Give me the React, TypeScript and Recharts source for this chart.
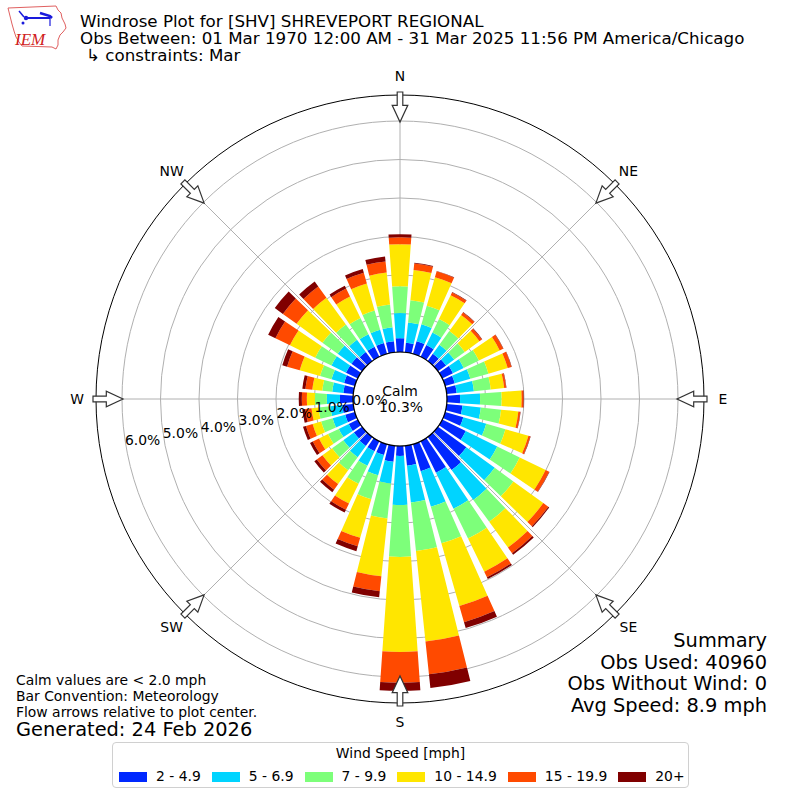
import React from 'react';
import { RadialBarChart, RadialBar, PolarAngleAxis, PolarRadiusAxis, PolarGrid } from 'recharts';

const FONT = '"DejaVu Sans", sans-serif';

// wind direction (deg, bar centre), 10 degree bins
const directions = [0, 10, 20, 30, 40, 50, 60, 70, 80, 90, 100, 110, 120, 130, 140, 150, 160, 170,
    180, 190, 200, 210, 220, 230, 240, 250, 260, 270, 280, 290, 300, 310, 320, 330, 340, 350];

// percent of obs per speed bin
const speed2to5 = [0.36, 0.25, 0.34, 0.34, 0.23, 0.26, 0.31, 0.26, 0.26, 0.34, 0.41, 0.49, 0.68, 0.91, 1.06, 0.91, 0.73, 0.52,
    0.26, 0.42, 0.29, 0.29, 0.29, 0.26, 0.26, 0.26, 0.29, 0.34, 0.26, 0.29, 0.34, 0.34, 0.29, 0.29, 0.29, 0.29];
const speed5to7 = [0.65, 0.53, 0.46, 0.36, 0.29, 0.26, 0.31, 0.42, 0.45, 0.52, 0.48, 0.62, 0.91, 0.91, 0.96, 1.04, 0.96, 0.96,
    1.27, 0.57, 0.55, 0.42, 0.36, 0.34, 0.29, 0.34, 0.31, 0.34, 0.29, 0.34, 0.42, 0.44, 0.39, 0.36, 0.36, 0.36];
const speed7to10 = [0.70, 0.58, 0.50, 0.39, 0.44, 0.34, 0.44, 0.49, 0.44, 0.56, 0.53, 0.52, 0.65, 0.60, 0.70, 0.86, 0.99, 1.27,
    1.35, 0.91, 0.65, 0.52, 0.42, 0.36, 0.31, 0.31, 0.31, 0.31, 0.26, 0.31, 0.47, 0.49, 0.49, 0.47, 0.52, 0.60];
const speed10to15 = [1.09, 0.79, 0.77, 0.69, 0.52, 0.47, 0.60, 0.52, 0.35, 0.52, 0.45, 0.62, 0.75, 0.96, 0.83, 0.96, 1.69, 2.36,
    2.47, 1.51, 1.04, 0.57, 0.44, 0.31, 0.26, 0.23, 0.18, 0.21, 0.26, 0.55, 0.73, 0.83, 0.86, 0.62, 0.73, 0.83];
const speed15to20 = [0.18, 0.17, 0.16, 0.08, 0.08, 0.08, 0.10, 0.10, 0.05, 0.05, 0.05, 0.05, 0.10, 0.16, 0.18, 0.16, 0.44, 0.86,
    0.80, 0.39, 0.23, 0.18, 0.18, 0.18, 0.18, 0.18, 0.16, 0.13, 0.18, 0.34, 0.42, 0.44, 0.36, 0.23, 0.29, 0.29];
const speed20plus = [0.08, 0.02, 0.01, 0.01, 0.01, 0.01, 0.01, 0.01, 0.01, 0.01, 0.01, 0.01, 0.01, 0.03, 0.05, 0.05, 0.16, 0.36,
    0.21, 0.16, 0.13, 0.08, 0.08, 0.08, 0.08, 0.08, 0.08, 0.08, 0.08, 0.13, 0.21, 0.26, 0.16, 0.08, 0.10, 0.13];

const radialTicks = [0, 1, 2, 3, 4, 5, 6];
const compassLabels = ['N', 'NE', 'E', 'SE', 'S', 'SW', 'W', 'NW'];

const bins = [
    { key: 's1', name: '2 - 4.9', color: '#0028ff', values: speed2to5 },
    { key: 's2', name: '5 - 6.9', color: '#00d4ff', values: speed5to7 },
    { key: 's3', name: '7 - 9.9', color: '#7dff7a', values: speed7to10 },
    { key: 's4', name: '10 - 14.9', color: '#ffe600', values: speed10to15 },
    { key: 's5', name: '15 - 19.9', color: '#ff4a00', values: speed15to20 },
    { key: 's6', name: '20+', color: '#800000', values: speed20plus },
];

const data = directions.map((d, i) => {
    const row: Record<string, any> = { dir: String(d) };
    bins.forEach(b => { row[b.key] = b.values[i]; });
    return row;
});

const CX = 400;
const CY = 399;
const INNER = 47;
const PX_PER_PCT = 38.5;
const RMAX = 7;
const OUTER = INNER + RMAX * PX_PER_PCT;
const RING = 304; // black frame circle
const FS = 13.9;

const renderRadialTick = (props: any) => {
    const { x, y, payload } = props;
    return (
        <text x={x + 16.3} y={y - 7.3} textAnchor="middle" dominantBaseline="central"
            fontSize={FS} fontFamily={FONT} fill="#000">
            {Number(payload.value).toFixed(1)}%
        </text>
    );
};

const Arrow = ({ deg }: { deg: number }) => (
    <g transform={`translate(${CX},${CY}) rotate(${deg})`}>
        <polygon
            points="-2.8,-307 2.8,-307 2.8,-293.7 7.8,-293.7 0,-277 -7.8,-293.7 -2.8,-293.7"
            fill="#fff" stroke="#333" strokeWidth={1.2} />
    </g>
);

const Logo = () => (
    <g>
        <path d="M8,8 L56,6 L58,10 L61,13 L62,18 L65,24 L66,28 L63,32 L60,35 L58,40 L58,45 L56,49 L52,47 L22,46 L19,42 L16,37 L14,31 L12,24 L10,16 Z"
            fill="none" stroke="#e06060" strokeWidth={1} />
        <line x1={26} y1={18} x2={50} y2={18} stroke="#1a1adc" strokeWidth={2} />
        <circle cx={26} cy={18} r={2.2} fill="#1a1adc" />
        <line x1={19} y1={11} x2={24} y2={17} stroke="#1a1adc" strokeWidth={1.5} />
        <path d="M40,13 L50,16 L52,18" fill="none" stroke="#1a1adc" strokeWidth={2.5} />
        <line x1={50} y1={18} x2={50} y2={26} stroke="#1a1adc" strokeWidth={1.2} />
        <circle cx={23} cy={23} r={1.5} fill="#1a1adc" />
        <text x={15} y={45} fontSize={17} fontStyle="italic" fontFamily='"Liberation Serif", serif' fill="#d02020">IEM</text>
    </g>
);

export default function App() {
    return (
        <div style={{ position: 'absolute', left: 0, top: 0, width: 800, height: 800, background: '#fff', fontFamily: FONT }}>
            <div style={{ position: 'absolute', left: 0, top: 0 }}>
                <RadialBarChart width={800} height={800} data={data} layout="centric"
                    cx={CX} cy={CY} innerRadius={INNER} outerRadius={OUTER}
                    startAngle={85} endAngle={-275} barCategoryGap="10%"
                    margin={{ top: 0, right: 0, bottom: 0, left: 0 }}>
                    <PolarAngleAxis type="category" dataKey="dir" tick={false} axisLine={false} tickLine={false} />
                    <PolarRadiusAxis type="number" scale="linear" domain={[0, RMAX]} ticks={radialTicks}
                        angle={190} axisLine={false} tickLine={false} tick={renderRadialTick} />
                    {bins.map(b => (
                        <RadialBar key={b.key} dataKey={b.key} name={b.name} stackId="wind"
                            fill={b.color} isAnimationActive={false} />
                    ))}
                    <PolarGrid gridType="circle" polarAngles={[90, 45, 0, -45, -90, -135, 180, 135]}
                        stroke="#b0b0b0" strokeWidth={1} />
                </RadialBarChart>
            </div>
            <svg width={800} height={800} style={{ position: 'absolute', left: 0, top: 0, pointerEvents: 'none' }}>
                {/* hide grid spokes past the frame */}
                <circle cx={CX} cy={CY} r={RING + 9} fill="none" stroke="#fff" strokeWidth={17} />
                <Logo />
                <g fontFamily={FONT} fontSize={16.7} fill="#000">
                    <text x={80} y={26.5}>Windrose Plot for [SHV] SHREVEPORT REGIONAL</text>
                    <text x={80} y={44}>Obs Between: 01 Mar 1970 12:00 AM - 31 Mar 2025 11:56 PM America/Chicago</text>
                    <text x={86} y={61}>↳ constraints: Mar</text>
                </g>
                <circle cx={CX} cy={CY} r={RING} fill="none" stroke="#000" strokeWidth={1} />
                <circle cx={CX} cy={CY} r={INNER} fill="none" stroke="#000" strokeWidth={1.2} />
                {compassLabels.map((label, i) => {
                    const a = (i * 45 * Math.PI) / 180;
                    return (
                        <text key={label} x={CX + 323 * Math.sin(a)} y={CY - 323 * Math.cos(a)}
                            textAnchor="middle" dominantBaseline="central" fontSize={FS} fontFamily={FONT}>{label}</text>
                    );
                })}
                {compassLabels.map((label, i) => <Arrow key={label} deg={i * 45} />)}
                <text x={400} y={391} textAnchor="middle" dominantBaseline="central" fontSize={FS} fontFamily={FONT}>Calm</text>
                <text x={401} y={407} textAnchor="middle" dominantBaseline="central" fontSize={FS} fontFamily={FONT}>10.3%</text>
                <g fontFamily={FONT} fontSize={FS}>
                    <text x={16} y={685}>Calm values are &lt; 2.0 mph</text>
                    <text x={16} y={701}>Bar Convention: Meteorology</text>
                    <text x={16} y={717}>Flow arrows relative to plot center.</text>
                </g>
                <text x={16} y={736} fontFamily={FONT} fontSize={19.4}>Generated: 24 Feb 2026</text>
                <g fontFamily={FONT} fontSize={19.4} textAnchor="end">
                    <text x={767} y={647}>Summary</text>
                    <text x={767} y={668.5}>Obs Used: 40960</text>
                    <text x={767} y={690}>Obs Without Wind: 0</text>
                    <text x={767} y={712}>Avg Speed: 8.9 mph</text>
                </g>
            </svg>
            <div style={{
                position: 'absolute', left: 112, top: 742, width: 577, height: 46, boxSizing: 'border-box',
                border: '1px solid #d0d0d0', borderRadius: 4, background: '#fff', fontSize: FS, whiteSpace: 'nowrap',
            }}>
                <div style={{ textAlign: 'center', marginTop: 2, lineHeight: '17px' }}>Wind Speed [mph]</div>
                <div style={{ display: 'flex', alignItems: 'center', paddingLeft: 6, marginTop: 6 }}>
                    {bins.map(b => (
                        <div key={b.key} style={{ display: 'flex', alignItems: 'center', marginRight: 11, flexShrink: 0 }}>
                            <span style={{ display: 'inline-block', width: 28, height: 10, background: b.color, marginRight: 9 }} />
                            <span style={{ lineHeight: '17px' }}>{b.name}</span>
                        </div>
                    ))}
                </div>
            </div>
        </div>
    );
}
